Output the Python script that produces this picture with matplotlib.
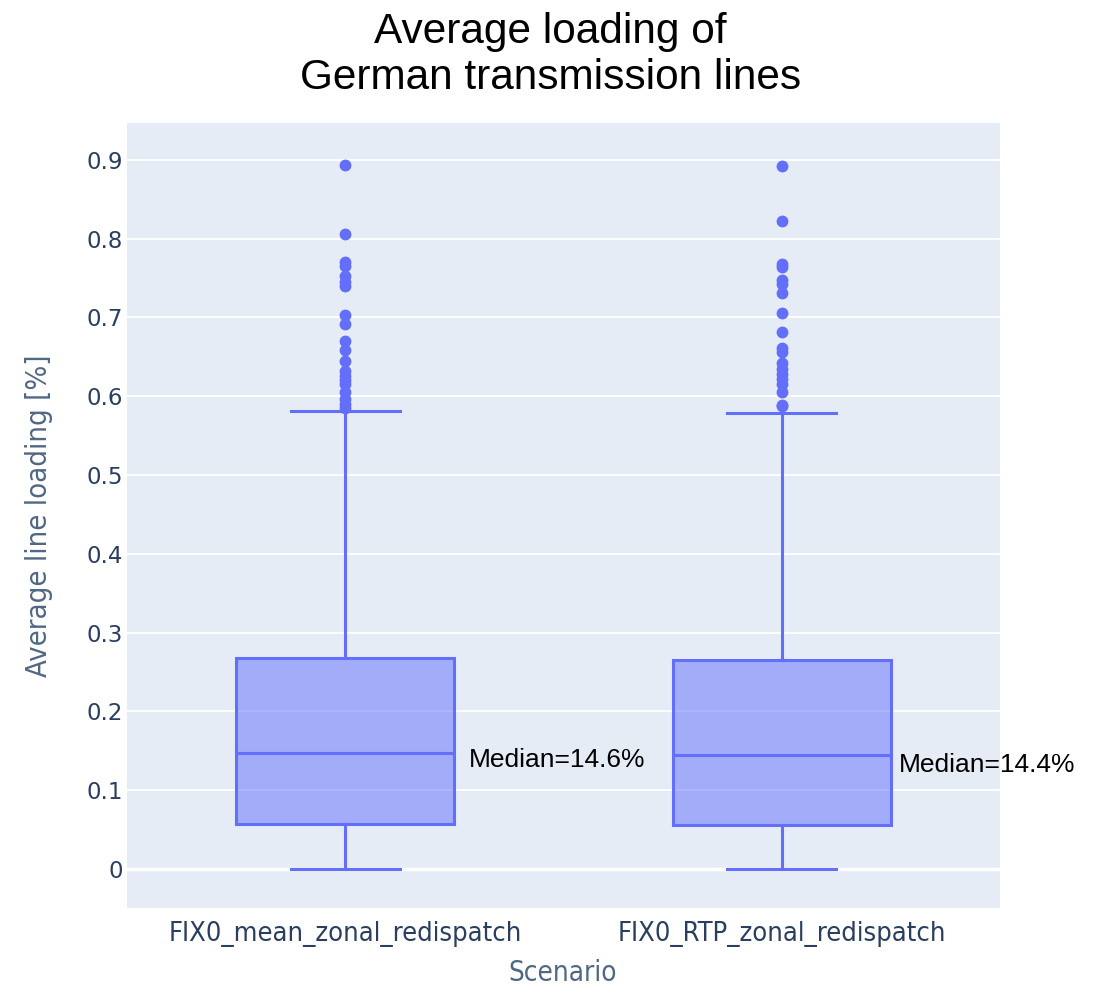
import matplotlib.pyplot as plt

scenarios = ['FIX0_mean_zonal_redispatch', 'FIX0_RTP_zonal_redispatch']
q1 = [0.057, 0.056]
medians = [0.147, 0.145]
q3 = [0.268, 0.265]
whisker_low = [0.0, 0.0]
whisker_high = [0.581, 0.579]
outliers = [
    [0.893, 0.806, 0.770, 0.765, 0.752, 0.745, 0.740, 0.703, 0.692, 0.670,
     0.658, 0.645, 0.632, 0.625, 0.620, 0.615, 0.605, 0.597, 0.590, 0.585],
    [0.892, 0.822, 0.768, 0.764, 0.747, 0.742, 0.731, 0.705, 0.681, 0.661,
     0.656, 0.642, 0.635, 0.628, 0.622, 0.615, 0.605, 0.589, 0.587],
]
median_labels = ['Median=14.6%', 'Median=14.4%']

blue = '#636efa'
tick_color = '#2a3f5f'

fig = plt.figure(figsize=(11.01, 9.88), dpi=100)
ax = fig.add_axes([127 / 1101, 80 / 988, 873 / 1101, 785 / 988])
ax.set_facecolor('#e5ecf6')

stats = []
for i in range(len(scenarios)):
    stats.append({'label': scenarios[i], 'q1': q1[i], 'med': medians[i], 'q3': q3[i],
                  'whislo': whisker_low[i], 'whishi': whisker_high[i], 'fliers': outliers[i]})

ax.bxp(stats, positions=[0, 1], widths=0.5, capwidths=0.25, patch_artist=True,
       boxprops=dict(facecolor=(99 / 255, 110 / 255, 250 / 255, 0.5), edgecolor=blue, linewidth=2.2),
       medianprops=dict(color=blue, linewidth=2.2),
       whiskerprops=dict(color=blue, linewidth=2.2),
       capprops=dict(color=blue, linewidth=2.2),
       flierprops=dict(marker='o', markerfacecolor=blue, markeredgecolor=blue, markersize=7.5),
       zorder=3)

# median annotations to the right of each box
label_x = [0.284, 1.268]
label_y = [medians[0] - 0.009, medians[1] - 0.013]
for i in range(len(scenarios)):
    ax.text(label_x[i], label_y[i], median_labels[i], fontsize=19, family='Liberation Sans',
            va='center', ha='left', color='black', zorder=4)

ax.set_xlim(-0.5, 1.5)
ax.set_ylim(-0.0495, 0.9467)
ax.set_yticks([0, 0.1, 0.2, 0.3, 0.4, 0.5, 0.6, 0.7, 0.8, 0.9])
ax.set_yticklabels(['0', '0.1', '0.2', '0.3', '0.4', '0.5', '0.6', '0.7', '0.8', '0.9'])
ax.set_xticks([0, 1])
ax.set_xticklabels(scenarios)
ax.grid(axis='y', color='white', linewidth=1.3, zorder=0)
ax.axhline(0, color='white', linewidth=2.5, zorder=1)
ax.set_axisbelow(True)
for s in ax.spines.values():
    s.set_visible(False)
ax.tick_params(length=0)
ax.tick_params(axis='y', pad=3, labelsize=16.5, labelcolor=tick_color)
ax.tick_params(axis='x', pad=9, labelcolor=tick_color)
for lab in ax.get_xticklabels():
    lab.set_family('DejaVu Sans')
    lab.set_stretch('condensed')
    lab.set_fontsize(19.5)

ax.set_ylabel('Average line loading [%]', fontsize=21, color='#506784',
              family='DejaVu Sans', fontstretch='condensed', labelpad=24)
fig.text(563 / 1101, 1 - 973 / 988, 'Scenario', fontsize=20, color='#506784', family='DejaVu Sans',
         fontstretch='condensed', ha='center', va='center')

fig.text(0.5, 0.988, 'Average loading of\nGerman transmission lines', ha='center', va='top',
         fontsize=30.5, family='Liberation Sans', linespacing=1.2)

fig.savefig('out.png', dpi=100)
